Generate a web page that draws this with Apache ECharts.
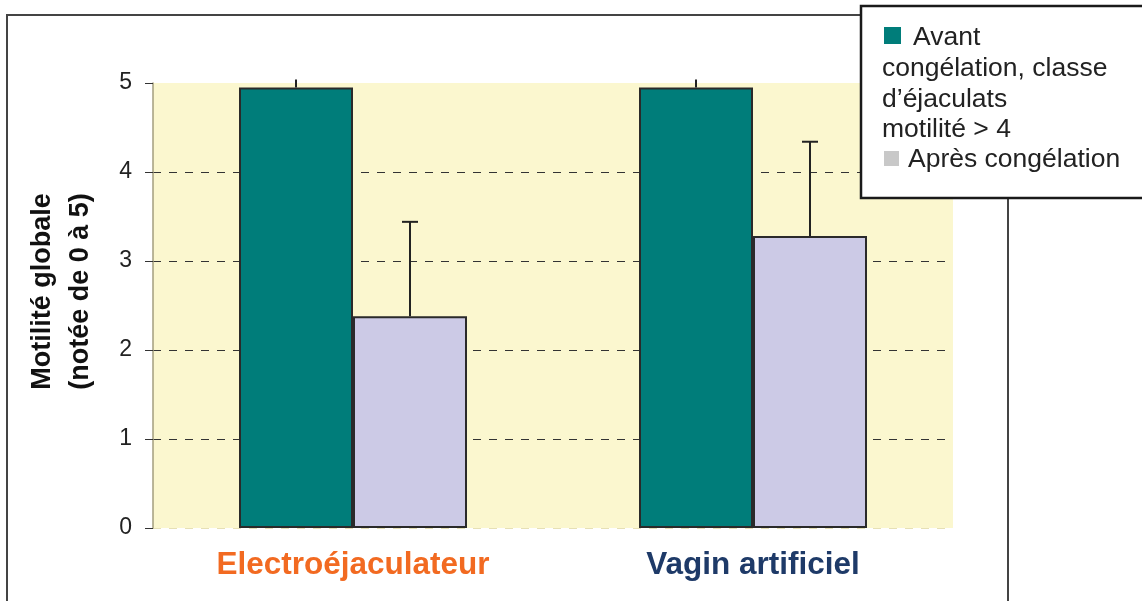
<!DOCTYPE html>
<html>
<head>
<meta charset="utf-8">
<script src="https://cdn.jsdelivr.net/npm/echarts@6/dist/echarts.min.js"></script>
<style>
  html, body { margin: 0; padding: 0; background: #fff; }
  #chart { width: 1142px; height: 601px; }
</style>
</head>
<body>
<div id="chart"></div>
<script>
// données
const categories = ['Electroéjaculateur', 'Vagin artificiel']
const categoryColors = ['#F26A21', '#1E3A68']
const seriesNames = ['Avant congélation, classe d’éjaculats motilité > 4', 'Après congélation']
const avant = [4.95, 4.95]
const avantErr = [0.09, 0.09]
const apres = [2.38, 3.28]
const apresErr = [1.06, 1.06]
const yTicks = [0, 1, 2, 3, 4, 5]

const teal = '#007D7A'
const lavender = '#CCCAE6'
const half = 57 // demi-largeur de barre

function errorSeries(name, values, errs, offset, cap) {
  return {
    name: name + ' err',
    type: 'custom',
    z: 5,
    silent: true,
    data: values.map((v, i) => [i, v, v + errs[i]]),
    renderItem: function (params, api) {
      const lo = api.coord([api.value(0), api.value(1)])
      const hi = api.coord([api.value(0), api.value(2)])
      const x = lo[0] + offset
      const children = [{
        type: 'line',
        shape: { x1: x, y1: lo[1], x2: x, y2: hi[1] },
        style: { stroke: '#222', lineWidth: 2 }
      }]
      if (cap) {
        children.push({
          type: 'line',
          shape: { x1: x - 8, y1: hi[1], x2: x + 8, y2: hi[1] },
          style: { stroke: '#222', lineWidth: 2 }
        })
      }
      return { type: 'group', children: children }
    }
  }
}

// légende dessinée à la main (texte qui passe sous le carré)
const legendLines = ['congélation, classe', 'd’éjaculats', 'motilité > 4']
const legendFont = '26.5px "Liberation Sans", Arial, sans-serif'
const legendGraphics = [
  { type: 'rect', shape: { x: 861, y: 6, width: 320, height: 192 },
    style: { fill: '#fff', stroke: '#1a1a1a', lineWidth: 2.5 }, z: 10 },
  { type: 'rect', shape: { x: 884, y: 27, width: 17, height: 17 }, style: { fill: teal }, z: 11 },
  { type: 'text', x: 913, y: 38, z: 11,
    style: { text: seriesNames[0].split(' ')[0], font: legendFont, fill: '#222', verticalAlign: 'middle' } },
  { type: 'rect', shape: { x: 884, y: 151, width: 15, height: 15 }, style: { fill: '#C8C8C8' }, z: 11 },
  { type: 'text', x: 908, y: 160, z: 11,
    style: { text: seriesNames[1], font: legendFont, fill: '#222', verticalAlign: 'middle' } }
]
legendLines.forEach((t, i) => {
  legendGraphics.push({ type: 'text', x: 882, y: 69 + i * 30.5, z: 11,
    style: { text: t, font: legendFont, fill: '#222', verticalAlign: 'middle' } })
})

const chart = echarts.init(document.getElementById('chart'))
chart.setOption({
  animation: false,
  textStyle: { fontFamily: '"Liberation Sans", Arial, sans-serif' },
  grid: {
    left: 153, right: 189, top: 83, bottom: 73,
    show: true, backgroundColor: '#FBF7CF', borderWidth: 0
  },
  graphic: [
    { type: 'rect', shape: { x: 7, y: 15, width: 1001, height: 640 },
      style: { fill: null, stroke: '#444', lineWidth: 2 }, z: 1 }
  ].concat(legendGraphics),
  xAxis: {
    type: 'category',
    data: categories,
    axisLine: { show: false },
    axisTick: { show: false },
    axisLabel: {
      margin: 21,
      fontSize: 31.5,
      fontWeight: 'bold',
      color: function (value, index) { return categoryColors[index] }
    }
  },
  yAxis: {
    type: 'value',
    min: yTicks[0],
    max: yTicks[yTicks.length - 1],
    interval: 1,
    name: 'Motilité globale\n(notée de 0 à 5)',
    nameLocation: 'middle',
    nameGap: 53,
    nameTextStyle: { fontSize: 27, fontWeight: 'bold', color: '#111', lineHeight: 38, padding: [0, 0, 0, 28] },
    axisLine: { show: true, lineStyle: { color: '#A39E7E', width: 1.5 } },
    axisTick: { show: true, length: 8, lineStyle: { color: '#333' } },
    axisLabel: { margin: 21, fontSize: 23, color: '#222' },
    splitLine: {
      show: true,
      showMaxLine: false,
      lineStyle: { color: ['#E6E0B6', '#333', '#333', '#333', '#333', '#333'], type: [8, 8], width: 1 }
    }
  },
  series: [
    {
      name: seriesNames[0], type: 'bar', data: avant,
      barWidth: 114, barGap: '0%',
      itemStyle: { color: teal, borderColor: '#2a2a2a', borderWidth: 2 }
    },
    {
      name: seriesNames[1], type: 'bar', data: apres,
      barWidth: 114,
      itemStyle: { color: lavender, borderColor: '#2a2a2a', borderWidth: 2 }
    },
    errorSeries(seriesNames[0], avant, avantErr, -half, false),
    errorSeries(seriesNames[1], apres, apresErr, half, true)
  ]
})
</script>
</body>
</html>
